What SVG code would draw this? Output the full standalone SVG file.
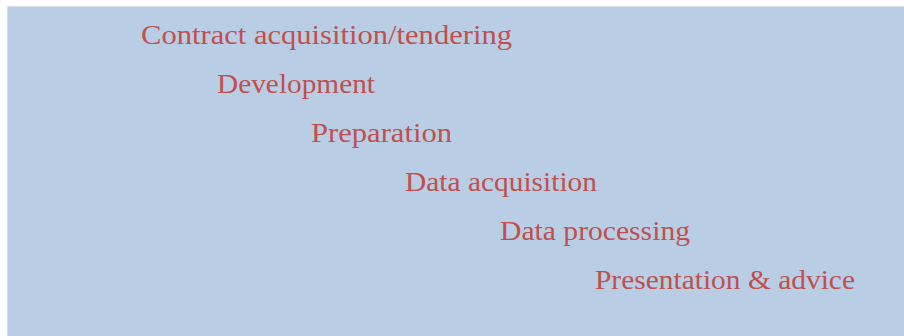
<svg xmlns="http://www.w3.org/2000/svg" width="904" height="336" viewBox="0 0 904 336">
<style>
.bg{fill:#B9CDE5;stroke:#D3DEEE;stroke-width:1}
.t{font-family:"Liberation Serif","DejaVu Serif",serif;font-size:28px;fill:#C0504D}
</style>
<rect width="904" height="336" fill="#FFFFFF"/>
<rect class="bg" x="7.5" y="6.5" width="900" height="335"/>
<g id="n1"><text class="t" x="141" y="43.5" textLength="371" lengthAdjust="spacingAndGlyphs">Contract acquisition/tendering</text></g>
<g id="n2"><text class="t" x="217" y="92.5" textLength="158" lengthAdjust="spacingAndGlyphs">Development</text></g>
<g id="n3"><text class="t" x="311" y="141.5" textLength="141" lengthAdjust="spacingAndGlyphs">Preparation</text></g>
<g id="n4"><text class="t" x="405" y="190.5" textLength="192" lengthAdjust="spacingAndGlyphs">Data acquisition</text></g>
<g id="n5"><text class="t" x="500" y="239.5" textLength="190" lengthAdjust="spacingAndGlyphs">Data processing</text></g>
<g id="n6"><text class="t" x="595" y="288.5" textLength="260" lengthAdjust="spacingAndGlyphs">Presentation &amp; advice</text></g>
<g id="connectors"></g>
</svg>
